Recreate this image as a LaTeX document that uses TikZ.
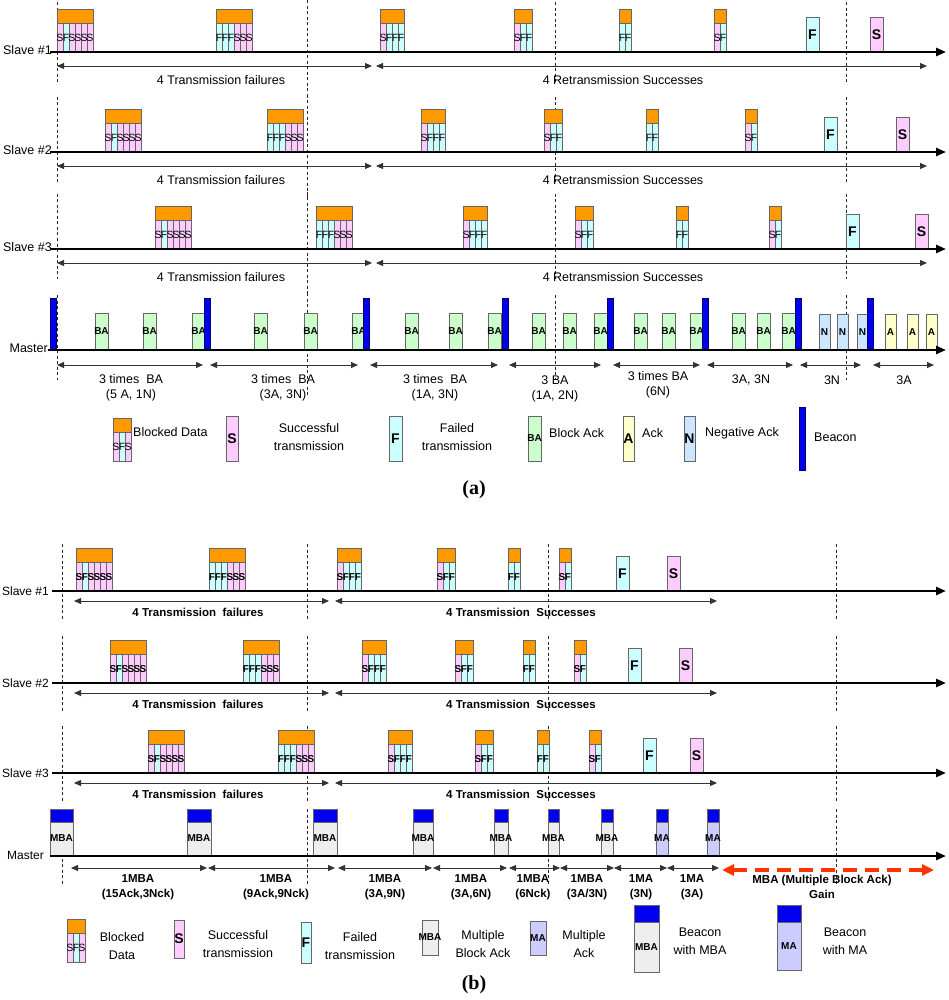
\documentclass[tikz,border=0pt]{standalone}
\usepackage{fontspec}
\setmainfont{Liberation Sans}
\newfontfamily\titlefont{Liberation Serif}
\usetikzlibrary{arrows.meta}

\definecolor{blockorange}{HTML}{FF9900}
\definecolor{colS}{HTML}{FFCCFF}
\definecolor{colF}{HTML}{CCFFFF}
\definecolor{bagreen}{HTML}{CCFFCC}
\definecolor{ackyellow}{HTML}{FFFFCC}
\definecolor{nackblue}{HTML}{CCE6FF}
\definecolor{beaconblue}{HTML}{0000EE}
\definecolor{mbagray}{HTML}{EEEEEE}
\definecolor{mapurple}{HTML}{CCCCFF}
\definecolor{gainred}{HTML}{FF3300}

\tikzset{
  axisline/.style={line width=2.8pt, -{Triangle[length=10pt,width=8pt]}},
  span/.style={line width=0.8pt, black!80, {Triangle[length=7pt,width=6pt]}-{Triangle[length=7pt,width=6pt]}},
  guide/.style={black!85, line width=0.7pt, dash pattern=on 3pt off 2.5pt},
  cell/.style={draw=black!60, line width=0.6pt},
  celltxt/.style={inner sep=0pt, font=\fontsize{10.5}{11}\selectfont},
  bigtxt/.style={inner sep=0pt, font=\bfseries\fontsize{14}{14}\selectfont},
  acktxt/.style={inner sep=0pt, font=\bfseries\fontsize{10}{10}\selectfont},
  lbl/.style={inner sep=0pt, align=center, font=\fontsize{12.5}{15}\selectfont},
  blbl/.style={inner sep=0pt, align=center, font=\bfseries\fontsize{11.5}{15.5}\selectfont},
  leg/.style={inner sep=0pt, align=center, font=\fontsize{12.5}{18}\selectfont},
}

% blocked data: x, axis y, number of frames, frame letters
\newcommand{\datablk}[4]{%
  \draw[cell, fill=blockorange] (#1,#2-29) rectangle ++({6*#3},-14);
  \foreach \ltr [count=\i] in {#4}
    \draw[cell, fill=col\ltr] ({#1+6*(\i-1)},#2) rectangle ++(6,-29);
  \foreach \ltr [count=\i] in {#4}
    \node[celltxt] (blk#1-#2-\i) at ({#1+6*\i-3},#2-14) {\ltr};
}
% single frame: x, axis y, letter
\newcommand{\onefrm}[3]{%
  \draw[cell, fill=col#3] (#1,#2) rectangle ++(13,-35);
  \node[bigtxt] (frm#1-#2) at (#1+6.5,#2-17) {#3};
}
% beacon with ack: x, axis y, width, colour, text
\newcommand{\beaconack}[5]{%
  \draw[cell, fill=#4] (#1,#2) rectangle ++(#3,-34);
  \draw[cell, fill=beaconblue] (#1,#2-34) rectangle ++(#3,-13);
  \node[acktxt] (ba#1-#2) at ({#1+#3/2},#2-18) {#5};
}

\begin{document}
\begin{tikzpicture}[x=1pt,y=-1pt]
\useasboundingbox (0,0) rectangle (949,1000);

%%% (a)
\foreach \y in {52,152,249,350} {
  \foreach \x in {57,555,846} \draw[guide] (\x,\y-55) -- (\x,\y+30);
  \draw[guide] (307,\y-57) -- (307,\y+46);
}

% slave 1
\datablk{57}{52}{6}{S,F,S,S,S,S}
\datablk{216}{52}{6}{F,F,F,S,S,S}
\datablk{380}{52}{4}{S,F,F,F}
\datablk{514}{52}{3}{S,F,F}
\datablk{619}{52}{2}{F,F}
\datablk{714}{52}{2}{S,F}
\onefrm{806}{52}{F}
\onefrm{870}{52}{S}
% slave 2
\datablk{105}{152}{6}{S,F,S,S,S,S}
\datablk{267}{152}{6}{F,F,F,S,S,S}
\datablk{421}{152}{4}{S,F,F,F}
\datablk{544}{152}{3}{S,F,F}
\datablk{646}{152}{2}{F,F}
\datablk{745}{152}{2}{S,F}
\onefrm{824}{152}{F}
\onefrm{896}{152}{S}
% slave 3
\datablk{155}{249}{6}{S,F,S,S,S,S}
\datablk{316}{249}{6}{F,F,F,S,S,S}
\datablk{463}{249}{4}{S,F,F,F}
\datablk{575}{249}{3}{S,F,F}
\datablk{676}{249}{2}{F,F}
\datablk{769}{249}{2}{S,F}
\onefrm{846}{249}{F}
\onefrm{915}{249}{S}

\foreach \y/\s in {52/1,152/2,249/3} {
  \node[lbl, anchor=east] (slave\s) at (52,\y-2) {Slave \#\s};
  \draw[axisline] (50,\y) -- (946,\y);
  \draw[span] (57,\y+14) -- (372,\y+14);
  \draw[span] (376,\y+14) -- (927,\y+14);
  \node[lbl] (fail\s) at (221,\y+28) {4 Transmission failures};
  \node[lbl] (succ\s) at (623,\y+28) {4 Retransmission Successes};
}

% master
\foreach \x in {95,143,192,254,304,352,405,449,488,532,563,594,634,662,690,732,757,782}
  \draw[cell, fill=bagreen] (\x,350) rectangle ++(13,-37) node[acktxt, midway] (bk\x) {BA};
\foreach \x in {819,837,857}
  \draw[cell, fill=nackblue] (\x,350) rectangle ++(11,-36) node[acktxt, midway] (nk\x) {N};
\foreach \x in {885,907,926}
  \draw[cell, fill=ackyellow] (\x,350) rectangle ++(11,-36) node[acktxt, midway] (ak\x) {A};
\foreach \x in {50,204,363,502,607,702,795,867}
  \draw[draw=blue!40!black, line width=0.5pt, fill=beaconblue] (\x,350) rectangle ++(6,-52);
\node[lbl, anchor=east] (mastera) at (48,348) {Master};
\draw[axisline] (48,350) -- (946,350);
\foreach \a/\b in {57/203,210/358,370/498,509/601,613/700,707/793,800/861,873/934}
  \draw[span] (\a,365) -- (\b,365);
\node[lbl] (ma1) at (131,388) {3 times\ \ BA\\(5 A, 1N)};
\node[lbl] (ma2) at (283,388) {3 times\ \ BA\\(3A, 3N)};
\node[lbl] (ma3) at (435,388) {3 times\ \ BA\\(1A, 3N)};
\node[lbl] (ma4) at (555,389) {3 BA\\(1A, 2N)};
\node[lbl] (ma5) at (658,385) {3 times BA\\(6N)};
\node[lbl] (ma6) at (751,380) {3A, 3N};
\node[lbl] (ma7) at (832,380) {3N};
\node[lbl] (ma8) at (904,380) {3A};

% legend (a)
\datablk{113}{461}{3}{S,F,S}
\node[lbl, anchor=west] (lga1) at (133,432) {Blocked Data};
\draw[cell, fill=colS] (226,416) rectangle (238,461) node[bigtxt, midway] (lga2) {S};
\node[leg] (lga3) at (309,437) {Successful\\transmission};
\draw[cell, fill=colF] (389,416) rectangle (402,461) node[bigtxt, midway] (lga4) {F};
\node[leg] (lga5) at (457,437) {Failed\\transmission};
\draw[cell, fill=bagreen] (528,416) rectangle (541,461) node[acktxt, midway] (lga6) {BA};
\node[lbl, anchor=west] (lga7) at (549,433) {Block Ack};
\draw[cell, fill=ackyellow] (623,416) rectangle (634,461) node[bigtxt, midway] (lga8) {A};
\node[lbl, anchor=west] (lga9) at (642,433) {Ack};
\draw[cell, fill=nackblue] (684,416) rectangle (695,461) node[bigtxt, midway] (lga10) {N};
\node[lbl, anchor=west] (lga11) at (705,433) {Negative Ack};
\draw[draw=blue!40!black, line width=0.5pt, fill=beaconblue] (799,407) rectangle (805,470);
\node[lbl, anchor=west] (lga12) at (814,437) {Beacon};

\node[font=\titlefont\bfseries\fontsize{20}{20}\selectfont] (capa) at (474,490) {(a)};

%%% (b)
\begin{scope}[celltxt/.style={inner sep=0pt, font=\bfseries\fontsize{10}{10}\selectfont}]
\foreach \y in {591,683,773,856} {
  \foreach \x in {62,307,548,836} \draw[guide] (\x,\y-47) -- (\x,\y+28);
}

% slave 1
\datablk{76}{591}{6}{S,F,S,S,S,S}
\datablk{209}{591}{6}{F,F,F,S,S,S}
\datablk{337}{591}{4}{S,F,F,F}
\datablk{437}{591}{3}{S,F,F}
\datablk{508}{591}{2}{F,F}
\datablk{559}{591}{2}{S,F}
\onefrm{616}{591}{F}
\onefrm{667}{591}{S}
% slave 2
\datablk{110}{683}{6}{S,F,S,S,S,S}
\datablk{243}{683}{6}{F,F,F,S,S,S}
\datablk{362}{683}{4}{S,F,F,F}
\datablk{455}{683}{3}{S,F,F}
\datablk{523}{683}{2}{F,F}
\datablk{574}{683}{2}{S,F}
\onefrm{628}{683}{F}
\onefrm{679}{683}{S}
% slave 3
\datablk{148}{773}{6}{S,F,S,S,S,S}
\datablk{278}{773}{6}{F,F,F,S,S,S}
\datablk{388}{773}{4}{S,F,F,F}
\datablk{475}{773}{3}{S,F,F}
\datablk{537}{773}{2}{F,F}
\datablk{589}{773}{2}{S,F}
\onefrm{643}{773}{F}
\onefrm{690}{773}{S}
\end{scope}

\foreach \y/\s in {591/1,683/2,773/3} {
  \node[lbl, anchor=east, font=\fontsize{12}{14}\selectfont] (slaveb\s) at (49,\y) {Slave \#\s};
  \draw[axisline] (52,\y) -- (946,\y);
  \draw[span] (74,\y+10) -- (329,\y+10);
  \draw[span] (335,\y+10) -- (717,\y+10);
  \node[blbl] (failb\s) at (198,\y+21) {4 Transmission\ \ failures};
  \node[blbl] (succb\s) at (521,\y+21) {4 Transmission\ \ Successes};
}

% master
\beaconack{50}{856}{23}{mbagray}{MBA}
\beaconack{187}{856}{24}{mbagray}{MBA}
\beaconack{313}{856}{24}{mbagray}{MBA}
\beaconack{413}{856}{20}{mbagray}{MBA}
\beaconack{494}{856}{14}{mbagray}{MBA}
\beaconack{548}{856}{11}{mbagray}{MBA}
\beaconack{601}{856}{12}{mbagray}{MBA}
\beaconack{656}{856}{12}{mapurple}{MA}
\beaconack{707}{856}{12}{mapurple}{MA}
\node[lbl, anchor=east, font=\fontsize{12}{14}\selectfont] (masterb) at (44,855) {Master};
\draw[axisline] (50,856) -- (946,856);
\foreach \a/\b in {71/207,208/335,338/432,433/507,509/560,560/614,614/667,667/719}
  \draw[span] (\a,868) -- (\b,868);
\draw[gainred, line width=3.6pt, dash pattern=on 14pt off 8pt,
  {Triangle[length=12pt,width=11pt]}-{Triangle[length=12pt,width=11pt]}] (722,870) -- (934,870);
\node[blbl] (mb1) at (138,887) {1MBA\\(15Ack,3Nck)};
\node[blbl] (mb2) at (276,887) {1MBA\\(9Ack,9Nck)};
\node[blbl] (mb3) at (385,887) {1MBA\\(3A,9N)};
\node[blbl] (mb4) at (471,887) {1MBA\\(3A,6N)};
\node[blbl] (mb5) at (533,887) {1MBA\\(6Nck)};
\node[blbl] (mb6) at (587,887) {1MBA\\(3A/3N)};
\node[blbl] (mb7) at (641,887) {1MA\\(3N)};
\node[blbl] (mb8) at (692,887) {1MA\\(3A)};
\node[blbl] (mb9) at (822,887) {MBA (Multiple Block Ack)\\Gain};

% legend (b)
\datablk{67}{962}{3}{S,F,S}
\node[leg] (lgb1) at (122,946) {Blocked\\Data};
\draw[cell, fill=colS] (174,920) rectangle (184,958) node[bigtxt, midway] (lgb2) {S};
\node[leg] (lgb3) at (238,944) {Successful\\transmission};
\draw[cell, fill=colF] (301,922) rectangle (311,963) node[bigtxt, midway] (lgb4) {F};
\node[leg] (lgb5) at (360,946) {Failed\\transmission};
\draw[cell, fill=mbagray] (422,920) rectangle (438,955) node[acktxt, midway] (lgb6) {MBA};
\node[leg] (lgb7) at (483,944) {Multiple\\Block Ack};
\draw[cell, fill=mapurple] (530,921) rectangle (546,955) node[acktxt, midway] (lgb8) {MA};
\node[leg] (lgb9) at (584,944) {Multiple\\Ack};
\draw[cell, fill=mbagray] (634,922) rectangle (659,972) node[acktxt, midway] (lgb10) {MBA};
\draw[cell, fill=beaconblue] (634,905) rectangle (659,922);
\node[leg] (lgb11) at (700,941) {Beacon\\with MBA};
\draw[cell, fill=mapurple] (777,922) rectangle (801,970) node[acktxt, midway] (lgb12) {MA};
\draw[cell, fill=beaconblue] (777,905) rectangle (801,922);
\node[leg] (lgb13) at (845,941) {Beacon\\with MA};

\node[font=\titlefont\bfseries\fontsize{20}{20}\selectfont] (capb) at (474,985) {(b)};
\end{tikzpicture}
\end{document}
